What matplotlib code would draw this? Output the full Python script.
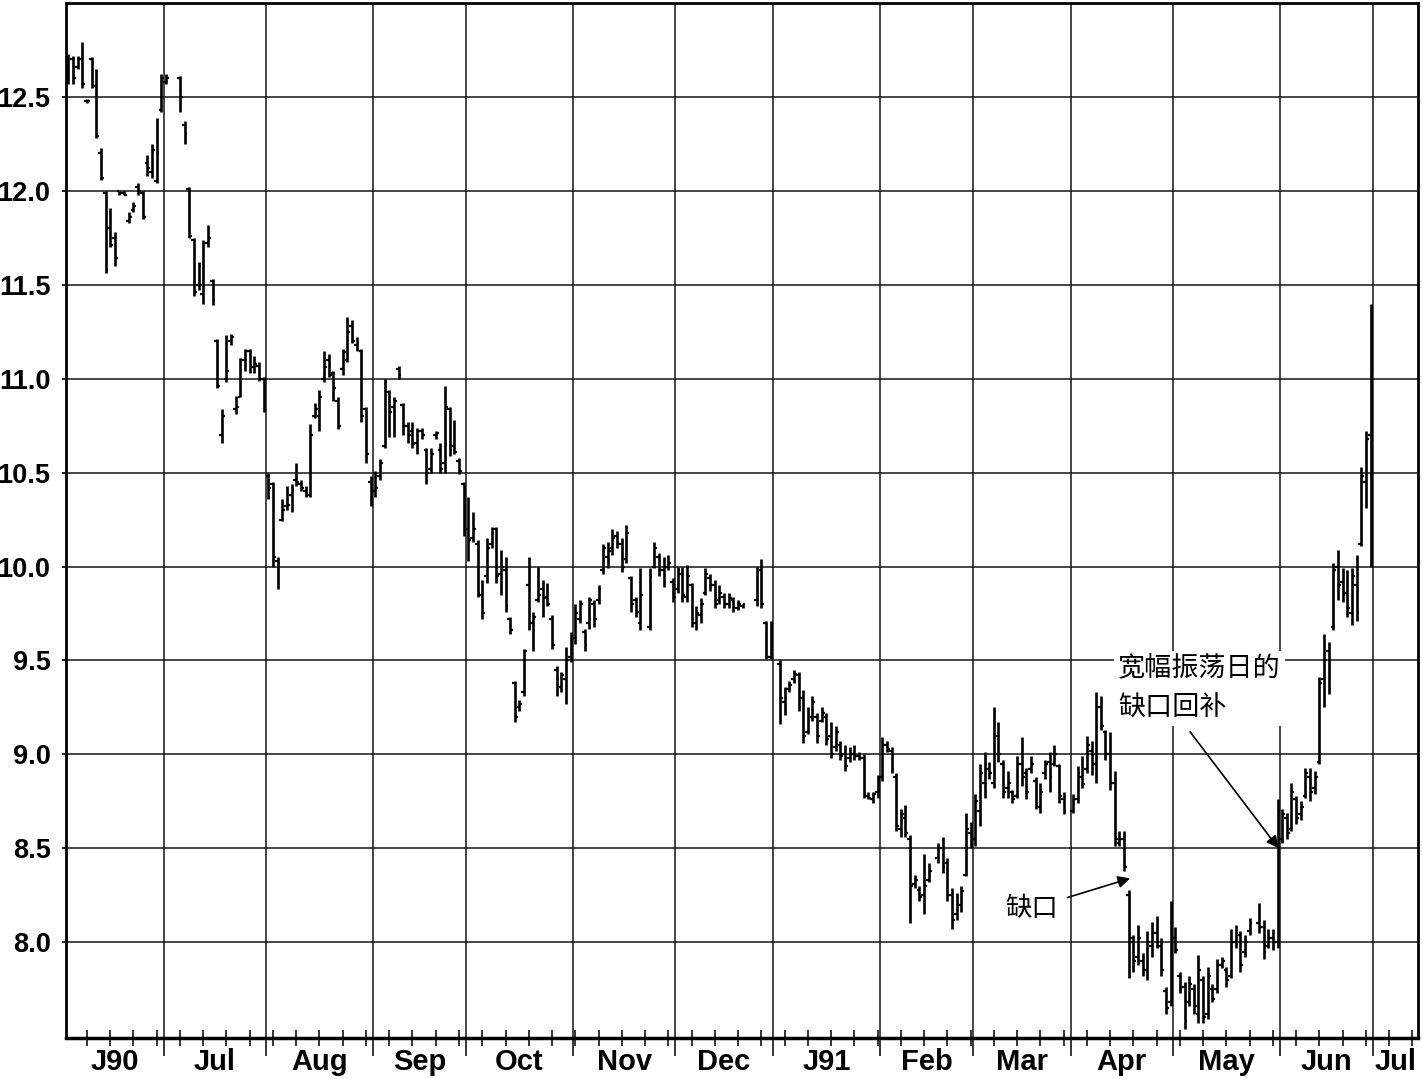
import numpy as np
import pandas as pd
import matplotlib
matplotlib.use("Agg")
import matplotlib.pyplot as plt
from matplotlib.transforms import blended_transform_factory

N = np.nan
# ---- daily bars (one entry per weekday from 1 Jun 1990; NaN = no trading) ----
highs = [
 12.73,12.72,12.72,12.79,12.49,12.71,12.65,12.23,12.00,11.91,11.78,12.00,12.00,11.89,11.94,12.04,12.00,12.19,12.25,12.39,12.62,
 12.62,N,N,12.61,12.37,12.02,11.75,11.62,11.74,11.82,11.53,11.21,10.84,11.23,11.24,10.91,11.11,11.16,11.16,11.12,11.09,11.01,
 10.50,10.45,10.05,10.36,10.43,10.44,10.55,10.46,10.43,10.76,10.87,10.94,11.15,11.13,11.04,10.90,11.16,11.33,11.31,11.22,11.16,10.85,10.48,
 10.51,10.57,11.00,10.94,10.90,11.07,10.87,10.77,10.77,10.74,10.74,10.63,10.63,10.72,10.66,10.96,10.85,10.78,10.58,10.45,
 10.37,10.29,10.14,9.93,10.15,10.21,10.21,10.09,10.05,9.73,9.39,9.29,9.56,10.05,9.76,10.00,9.93,9.91,9.74,9.47,9.44,9.57,9.65,
 9.80,9.82,9.67,9.84,9.82,9.90,10.12,10.13,10.20,10.19,10.15,10.22,9.95,9.84,9.99,N,9.99,10.13,10.07,10.05,10.06,9.94,
 10.00,10.00,10.01,9.91,9.79,9.83,9.99,9.96,9.93,9.90,9.86,9.86,9.84,9.82,9.80,N,N,10.00,10.04,9.71,9.71,
 N,9.50,9.36,9.39,9.45,9.44,9.34,9.25,9.31,9.22,9.25,9.22,9.17,9.15,9.07,9.05,9.04,9.05,9.01,9.00,8.80,8.80,8.89,
 9.09,9.07,9.04,8.90,8.71,8.73,8.57,8.36,8.30,8.47,8.42,N,8.53,8.56,8.45,8.29,8.26,8.30,8.69,8.64,
 8.79,8.95,9.01,8.96,9.25,9.17,8.97,8.91,8.81,8.99,9.09,8.93,8.99,8.88,8.85,8.97,9.01,9.05,8.95,8.80,N,
 8.79,8.94,8.99,9.10,9.07,9.33,9.31,9.13,9.12,8.91,8.59,8.59,8.28,8.04,8.09,7.94,8.06,8.11,8.14,8.02,7.76,8.22,
 8.08,7.84,7.79,7.82,7.78,7.93,7.82,7.87,7.78,7.91,7.92,7.87,8.07,8.09,8.06,8.04,8.13,N,8.21,8.12,8.07,8.07,8.76,
 8.71,8.69,8.85,8.78,8.75,8.93,8.93,8.91,9.41,9.64,9.60,10.02,10.09,9.99,9.98,9.99,10.06,10.53,10.72,11.40,
]
lows = [
 12.57,12.57,12.65,12.55,12.47,12.55,12.28,12.06,11.56,11.70,11.60,11.98,11.98,11.83,11.89,11.98,11.85,12.08,12.07,12.04,12.42,
 12.57,N,N,12.42,12.25,11.75,11.44,11.47,11.40,11.70,11.39,10.95,10.66,10.98,11.18,10.81,10.90,11.04,11.03,11.03,10.99,10.82,
 10.36,10.00,9.88,10.24,10.30,10.29,10.43,10.40,10.37,10.37,10.79,10.72,10.98,11.01,10.88,10.73,11.02,11.09,11.19,11.15,10.77,10.55,10.32,
 10.37,10.46,10.63,10.69,10.69,11.00,10.70,10.66,10.63,10.60,10.68,10.44,10.50,10.68,10.50,10.50,10.59,10.60,10.49,10.16,
 10.03,10.13,9.84,9.72,9.91,10.10,9.91,9.85,9.76,9.64,9.17,9.23,9.31,9.66,9.55,9.81,9.73,9.79,9.56,9.31,9.33,9.27,9.49,
 9.59,9.70,9.55,9.67,9.68,9.80,9.96,9.99,10.06,10.10,9.97,10.02,9.76,9.73,9.66,N,9.66,9.99,9.95,9.89,9.98,9.81,
 9.86,9.81,9.81,9.68,9.66,9.70,9.85,9.87,9.78,9.80,9.78,9.78,9.76,9.77,9.78,N,N,9.79,9.78,9.51,9.51,
 N,9.16,9.21,9.33,9.38,9.23,9.06,9.11,9.18,9.06,9.17,9.05,8.98,9.02,8.97,8.91,8.96,8.97,8.97,8.77,8.76,8.74,8.77,
 8.86,9.01,8.90,8.59,8.56,8.56,8.10,8.29,8.22,8.15,8.32,N,8.42,8.37,8.22,8.07,8.12,8.16,8.35,8.50,
 8.51,8.62,8.77,8.87,8.82,8.96,8.77,8.77,8.74,8.77,8.83,8.76,8.90,8.71,8.69,8.87,8.80,8.94,8.74,8.68,N,
 8.69,8.74,8.82,8.90,8.89,8.85,9.13,8.97,8.81,8.51,8.51,8.38,7.81,7.84,7.88,7.82,7.80,7.92,7.97,7.82,7.62,7.66,
 7.94,7.73,7.54,7.66,7.62,7.57,7.57,7.59,7.68,7.73,7.86,7.76,7.81,7.97,7.84,7.92,8.04,N,8.05,7.91,7.97,7.96,7.97,
 8.53,8.55,8.59,8.63,8.65,8.77,8.75,8.79,8.95,9.25,9.32,9.66,9.82,9.81,9.73,9.69,9.71,10.11,10.31,10.00,
]
opens = [
 12.58,12.70,12.66,12.70,12.48,12.70,12.56,12.20,11.99,11.80,11.75,12.00,11.99,11.84,11.90,12.02,11.99,12.15,12.10,12.05,12.43,
 12.58,N,N,12.60,12.35,12.01,11.74,11.50,11.45,11.72,11.52,11.20,10.70,11.00,11.20,10.84,10.90,11.10,11.15,11.06,11.07,11.00,
 10.48,10.44,10.03,10.25,10.32,10.38,10.46,10.44,10.40,10.38,10.80,10.80,11.00,11.10,11.03,10.88,11.05,11.10,11.28,11.18,11.15,10.84,10.45,
 10.40,10.48,10.64,10.93,10.85,11.05,10.86,10.75,10.72,10.66,10.72,10.62,10.52,10.70,10.62,10.55,10.84,10.64,10.56,10.44,
 10.20,10.15,10.12,9.85,9.95,10.12,10.20,9.96,9.98,9.72,9.38,9.25,9.33,9.90,9.70,9.82,9.88,9.84,9.72,9.45,9.36,9.40,9.52,
 9.62,9.72,9.65,9.70,9.80,9.82,9.98,10.05,10.10,10.16,10.12,10.04,9.94,9.82,9.70,N,9.68,10.00,10.05,9.98,10.00,9.92,
 9.88,9.96,9.84,9.90,9.70,9.74,9.86,9.94,9.90,9.82,9.84,9.80,9.82,9.78,9.79,N,N,9.82,9.98,9.70,9.52,
 N,9.48,9.28,9.35,9.40,9.42,9.30,9.12,9.20,9.20,9.18,9.20,9.10,9.04,9.05,9.00,8.98,9.00,8.99,8.98,8.78,8.76,8.80,
 8.88,9.05,9.02,8.88,8.60,8.66,8.55,8.31,8.28,8.25,8.33,N,8.45,8.50,8.42,8.25,8.15,8.20,8.36,8.58,
 8.55,8.70,8.85,8.92,8.85,9.10,8.95,8.82,8.80,8.78,8.95,8.90,8.92,8.86,8.72,8.90,8.96,8.95,8.94,8.76,N,
 8.70,8.76,8.88,8.92,9.02,8.95,9.25,9.12,9.00,8.85,8.53,8.55,8.25,8.00,7.92,7.90,7.85,7.98,8.05,7.98,7.74,7.68,
 8.02,7.82,7.76,7.68,7.75,7.62,7.80,7.62,7.75,7.75,7.88,7.85,7.82,8.00,8.04,7.95,8.06,N,8.10,8.08,7.98,8.02,8.00,
 8.55,8.66,8.60,8.76,8.68,8.78,8.88,8.82,8.96,9.40,9.55,9.68,10.00,9.92,9.86,9.75,9.90,10.12,10.45,10.70,
]
closes = [
 12.70,12.60,12.70,12.57,12.48,12.56,12.29,12.07,11.58,11.71,11.64,11.99,11.98,11.86,11.92,12.00,11.86,12.12,12.22,12.20,12.60,
 12.60,N,N,12.50,12.30,11.76,11.46,11.60,11.72,11.75,11.42,10.96,10.80,11.04,11.22,10.85,11.10,11.15,11.06,11.08,11.00,10.83,
 10.42,10.05,10.02,10.30,10.33,10.41,10.45,10.42,10.38,10.70,10.84,10.90,11.06,11.02,10.95,10.75,11.14,11.25,11.20,11.16,10.80,10.60,10.40,
 10.42,10.55,10.98,10.82,10.88,11.02,10.75,10.70,10.65,10.72,10.70,10.50,10.60,10.71,10.52,10.85,10.62,10.61,10.51,10.18,
 10.14,10.20,9.86,9.75,10.10,10.18,9.95,10.00,9.79,9.66,9.20,9.27,9.55,9.70,9.73,9.85,9.83,9.80,9.58,9.40,9.42,9.50,9.62,
 9.75,9.80,9.58,9.82,9.72,9.88,10.10,10.08,10.15,10.12,10.00,10.18,9.80,9.76,9.85,N,9.95,10.10,9.98,9.92,10.02,9.84,
 9.98,9.85,9.95,9.72,9.75,9.80,9.96,9.90,9.80,9.86,9.80,9.83,9.78,9.80,9.80,N,N,9.97,9.80,9.52,9.70,
 N,9.30,9.30,9.37,9.43,9.25,9.10,9.20,9.28,9.10,9.22,9.08,9.00,9.12,8.99,8.94,9.00,8.99,8.98,8.79,8.77,8.79,8.86,
 9.05,9.03,8.92,8.62,8.68,8.58,8.30,8.33,8.24,8.30,8.38,N,8.50,8.40,8.25,8.12,8.20,8.27,8.60,8.55,
 8.75,8.90,8.95,8.90,9.10,9.00,8.80,8.85,8.76,8.95,8.88,8.80,8.95,8.74,8.80,8.95,8.88,9.00,8.78,8.70,N,
 8.76,8.90,8.84,9.05,8.95,9.25,9.15,9.00,8.85,8.55,8.55,8.40,8.02,7.90,8.02,7.85,8.00,8.05,8.00,7.85,7.65,8.02,
 7.96,7.76,7.58,7.78,7.66,7.85,7.60,7.82,7.70,7.88,7.90,7.80,8.00,8.05,7.88,8.00,8.10,N,8.08,7.95,8.02,8.00,8.70,
 8.68,8.58,8.80,8.66,8.72,8.90,8.80,8.88,9.38,9.50,9.35,9.98,9.90,9.85,9.78,9.95,9.75,10.48,10.68,11.05,
]
month_labels = ["J90", "Jul", "Aug", "Sep", "Oct", "Nov", "Dec",
                "J91", "Feb", "Mar", "Apr", "May", "Jun", "Jul"]
y_ticks = [8.0, 8.5, 9.0, 9.5, 10.0, 10.5, 11.0, 11.5, 12.0, 12.5]
gap_label = "缺口"
fill_label = "宽幅振荡日的\n缺口回补"

# ---- calendar (weekday slots) ----
dates = pd.bdate_range("1990-06-01", periods=291)
month_start = [i for i in range(len(dates)) if i == 0 or dates[i].month != dates[i - 1].month]
thursdays = [i for i in range(len(dates)) if dates[i].weekday() == 3]

H = np.array(highs, float); L = np.array(lows, float)
O = np.array(opens, float); C = np.array(closes, float)
x = np.arange(len(H))
ok = ~np.isnan(H)

plt.rcParams["font.family"] = ["Liberation Sans", "DejaVu Sans"]
fig = plt.figure(figsize=(14.23, 10.79), dpi=100)
ax = fig.add_axes([66 / 1423, 41 / 1079, 1352 / 1423, 1035 / 1079])

xmin, xmax = -0.5, 290.2
ax.set_xlim(xmin, xmax)
ax.set_ylim(7.49, 13.0)

# grid
bounds = [m - 0.5 for m in month_start]
for b in bounds[1:]:
    ax.axvline(b, color="#151515", lw=1.1, zorder=1)
for yv in y_ticks:
    ax.axhline(yv, color="#151515", lw=1.1, zorder=1)

# bars
bw = 0.6
ax.vlines(x[ok], L[ok], H[ok], color="black", lw=1.9, zorder=3)
ax.hlines(O[ok], x[ok] - bw, x[ok], color="black", lw=1.6, zorder=3)
ax.hlines(C[ok], x[ok], x[ok] + bw, color="black", lw=1.6, zorder=3)

# axes styling
for s in ax.spines.values():
    s.set_linewidth(2.0)
    s.set_color("black")
ax.spines["bottom"].set_linewidth(2.5)

ax.set_yticks(y_ticks)
ax.set_yticklabels([f"{v:.1f}" for v in y_ticks], fontsize=19.5, fontweight="bold")
ax.tick_params(axis="y", length=3, width=1.2, pad=8)

ax.set_xticks(bounds[1:])
ax.set_xticklabels([])
ax.tick_params(axis="x", which="major", direction="out", length=13, width=1.1)
ax.set_xticks([t for t in thursdays if xmin < t < xmax], minor=True)
ax.tick_params(axis="x", which="minor", direction="inout", length=11, width=1.1)

trans = blended_transform_factory(ax.transData, ax.transAxes)
edges = bounds + [xmax]
for i, lab in enumerate(month_labels):
    cx = (max(edges[i], xmin) + edges[i + 1]) / 2
    ax.text(cx, -0.0235, lab, transform=trans, ha="center", va="center",
            fontsize=21, fontweight="bold")

# annotations
cjk = ["Noto Sans CJK SC", "DejaVu Sans"]
ax.annotate(gap_label, xy=(228.3, 8.34), xytext=(207.2, 8.18),
            ha="center", va="center", fontsize=19, family=cjk,
            bbox=dict(boxstyle="square,pad=0.15", fc="white", ec="none"),
            arrowprops=dict(arrowstyle="-|>", color="black", lw=1.2,
                            mutation_scale=18, shrinkA=4, shrinkB=0),
            zorder=5)
ax.text(225.7, 9.35, fill_label, ha="left", va="center", fontsize=19.5,
        family=cjk, linespacing=1.6,
        bbox=dict(boxstyle="square,pad=0.15", fc="white", ec="none"), zorder=5)
ax.annotate("", xy=(260.2, 8.5), xytext=(241.2, 9.12),
            arrowprops=dict(arrowstyle="-|>", color="black", lw=1.2,
                            mutation_scale=18, shrinkA=0, shrinkB=0),
            zorder=5)

fig.savefig("out.png", dpi=100, facecolor="white")
